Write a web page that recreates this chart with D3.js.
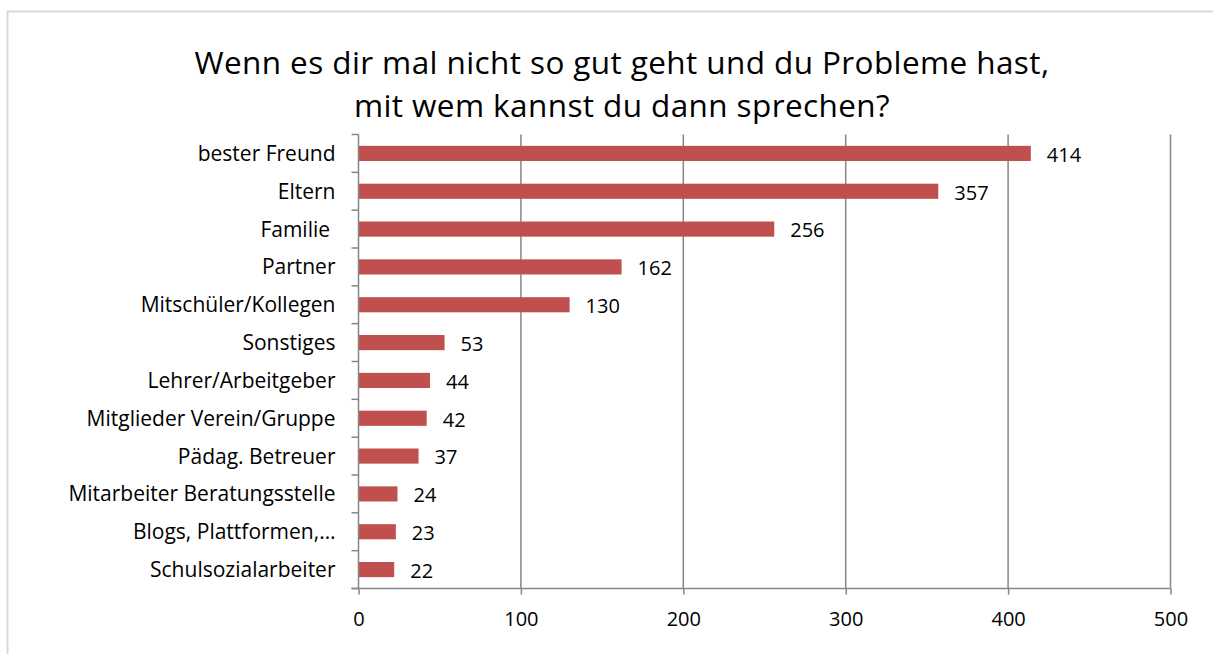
<!DOCTYPE html>
<html>
<head>
<meta charset="utf-8">
<script src="https://cdn.jsdelivr.net/npm/d3@7"></script>
<style>
  body { margin: 0; background: #fff; }
  svg text { font-family: "Open Sans", Lato, sans-serif; white-space: pre; }
</style>
</head>
<body>
<svg id="chart" width="1213" height="654"></svg>
<script>
const titleLines = ['Wenn es dir mal nicht so gut geht und du Probleme hast,', 'mit wem kannst du dann sprechen?']
const categories = ['bester Freund', 'Eltern', 'Familie ', 'Partner', 'Mitschüler/Kollegen', 'Sonstiges',
    'Lehrer/Arbeitgeber', 'Mitglieder Verein/Gruppe', 'Pädag. Betreuer', 'Mitarbeiter Beratungsstelle',
    'Blogs, Plattformen,…', 'Schulsozialarbeiter']
const values = [414, 357, 256, 162, 130, 53, 44, 42, 37, 24, 23, 22]
const xTicks = [0, 100, 200, 300, 400, 500]

const plot = { left: 358.5, right: 1170.5, top: 134.5, bottom: 588.5 }
const svg = d3.select('#chart')
const gridColor = '#868686'
const font = '"Open Sans", Lato, sans-serif'

// outer frame (right and bottom run off the picture)
svg.append('rect')
    .attr('x', 7.5).attr('y', 11.5)
    .attr('width', 1220).attr('height', 660)
    .attr('fill', 'none').attr('stroke', '#d9d9d9').attr('stroke-width', 2)

svg.append('g')
    .selectAll('text')
    .data(titleLines)
    .enter()
    .append('text')
    .attr('x', 622)
    .attr('y', (d, i) => 74 + i * 43)
    .attr('text-anchor', 'middle')
    .attr('font-size', 31.5)
    .attr('letter-spacing', 0.4)
    .attr('fill', '#000')
    .text(d => d)

const x = d3.scaleLinear()
    .domain([0, 500])
    .range([plot.left, plot.right])

const y = d3.scaleBand()
    .domain(categories)
    .range([plot.top, plot.bottom])
    .paddingInner(0.6)
    .paddingOuter(0.3)

// vertical gridlines
svg.append('g')
    .selectAll('line')
    .data(xTicks.slice(1))
    .enter()
    .append('line')
    .attr('x1', d => x(d)).attr('x2', d => x(d))
    .attr('y1', plot.top).attr('y2', plot.bottom)
    .attr('stroke', gridColor).attr('stroke-width', 1.5)

// bars
svg.append('g')
    .selectAll('rect')
    .data(values)
    .enter()
    .append('rect')
    .attr('x', x(0))
    .attr('y', (d, i) => y(categories[i]))
    .attr('width', d => x(d) - x(0))
    .attr('height', y.bandwidth())
    .attr('fill', '#c0504d')

// value labels
svg.append('g')
    .selectAll('text')
    .data(values)
    .enter()
    .append('text')
    .attr('x', d => x(d) + 16)
    .attr('y', (d, i) => y(categories[i]) + y.bandwidth() / 2)
    .attr('dy', '0.42em')
    .attr('font-size', 20)
    .text(d => d)

// x axis
const xAxis = svg.append('g')
    .attr('transform', `translate(0,${plot.bottom})`)
    .call(d3.axisBottom(x).tickValues(xTicks).tickSize(6).tickPadding(17).tickSizeOuter(0))
xAxis.select('.domain').attr('stroke', gridColor).attr('stroke-width', 1.5)
    .attr('d', `M${plot.left - 7},0H${plot.right}`)
xAxis.selectAll('.tick line').attr('stroke', gridColor).attr('stroke-width', 1.5)
xAxis.selectAll('.tick text')
    .attr('font-family', font)
    .attr('font-size', 20).attr('fill', '#000')

// y axis: line, ticks at category boundaries, labels
const boundaries = d3.range(categories.length + 1).map(i => plot.top + i * y.step())
const yAxis = svg.append('g')
yAxis.append('line')
    .attr('x1', plot.left).attr('x2', plot.left)
    .attr('y1', plot.top).attr('y2', plot.bottom)
    .attr('stroke', gridColor).attr('stroke-width', 1.5)
yAxis.selectAll('.btick')
    .data(boundaries)
    .enter()
    .append('line')
    .attr('class', 'btick')
    .attr('x1', plot.left - 7).attr('x2', plot.left)
    .attr('y1', d => d).attr('y2', d => d)
    .attr('stroke', gridColor).attr('stroke-width', 1.5)
yAxis.selectAll('.label')
    .data(categories)
    .enter()
    .append('text')
    .attr('class', 'label')
    .attr('x', plot.left - 23)
    .attr('y', d => y(d) + y.bandwidth() / 2)
    .attr('dy', '0.36em')
    .attr('text-anchor', 'end')
    .attr('font-size', 21)
    .text(d => d)
</script>
</body>
</html>
